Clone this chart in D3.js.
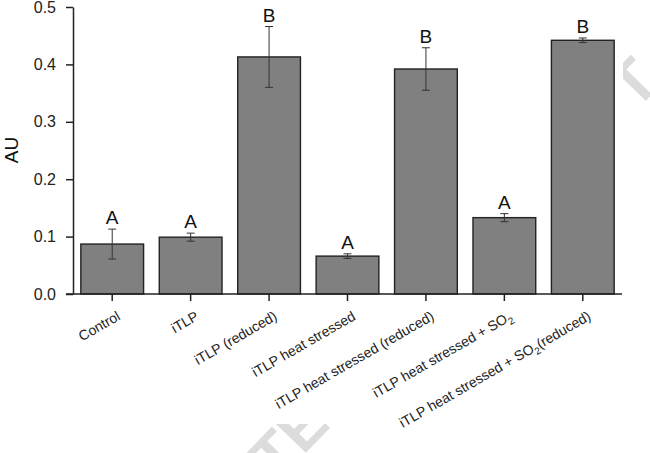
<!DOCTYPE html>
<html>
<head>
<meta charset="utf-8">
<script src="https://cdn.jsdelivr.net/npm/d3@7"></script>
<style>
  body { margin: 0; background: #fff; }
  svg { display: block; font-family: "Liberation Sans", Arial, sans-serif; }
</style>
</head>
<body>
<svg id="chart" width="650" height="453"></svg>
<script>
// data
var groups = ['Control', 'iTLP', 'iTLP (reduced)', 'iTLP heat stressed',
    'iTLP heat stressed (reduced)', 'iTLP heat stressed + SO2', 'iTLP heat stressed + SO2(reduced)'];
var means = [0.087, 0.099, 0.413, 0.066, 0.392, 0.133, 0.442];
var errs = [0.026, 0.007, 0.053, 0.004, 0.037, 0.007, 0.004];
var letters = ['A', 'A', 'B', 'A', 'B', 'A', 'B'];
var yTicks = [0, 0.1, 0.2, 0.3, 0.4, 0.5];

var svg = d3.select('#chart');
var plotL = 73, plotR = 622, plotT = 7, plotB = 294;

// faint watermark, mostly hidden behind the figure
svg.append('text')
    .attr('transform', 'translate(662,84) rotate(-46)')
    .attr('text-anchor', 'end')
    .attr('font-size', 62).attr('font-weight', 'bold')
    .attr('fill', '#dcdcdc')
    .text('ACCEPTED MANUSCRIPT');
svg.append('rect').attr('x', 0).attr('y', 0).attr('width', 623).attr('height', 424).attr('fill', '#fff');

var x = d3.scaleBand().domain(groups).range([plotL, plotR]).paddingInner(0.2).paddingOuter(0.1);
var y = d3.scaleLinear().domain([0, 0.5]).range([plotB, plotT]);

// bars
svg.append('g').selectAll('rect').data(groups).enter().append('rect')
    .attr('x', d => x(d))
    .attr('y', (d, i) => y(means[i]))
    .attr('width', x.bandwidth())
    .attr('height', (d, i) => y(0) - y(means[i]))
    .attr('fill', '#808080')
    .attr('stroke', '#222').attr('stroke-width', 1.4);

// error bars
var eb = svg.append('g').attr('stroke', '#333').attr('stroke-width', 1);
groups.forEach(function(g, i) {
    var cx = x(g) + x.bandwidth() / 2;
    var hi = y(means[i] + errs[i]), lo = y(means[i] - errs[i]);
    eb.append('line').attr('x1', cx).attr('x2', cx).attr('y1', hi).attr('y2', lo);
    eb.append('line').attr('x1', cx - 4).attr('x2', cx + 4).attr('y1', hi).attr('y2', hi);
    eb.append('line').attr('x1', cx - 4).attr('x2', cx + 4).attr('y1', lo).attr('y2', lo);
});

// significance letters
svg.append('g').selectAll('text').data(groups).enter().append('text')
    .attr('x', d => x(d) + x.bandwidth() / 2)
    .attr('y', (d, i) => y(means[i] + errs[i]) - 5)
    .attr('text-anchor', 'middle')
    .attr('font-size', 19).attr('fill', '#111')
    .text((d, i) => letters[i]);

// y axis
var yAxis = svg.append('g').attr('transform', 'translate(' + plotL + ',0)')
    .call(d3.axisLeft(y).tickValues(yTicks).tickFormat(d3.format('.1f')).tickSize(7).tickSizeOuter(0).tickPadding(10));
yAxis.select('.domain').attr('stroke', '#222').attr('stroke-width', 1.5);
yAxis.selectAll('.tick line').attr('stroke', '#222').attr('stroke-width', 1.5);
yAxis.selectAll('.tick text').attr('font-size', 16).attr('fill', '#222')
    .attr('font-family', '"Liberation Sans", Arial, sans-serif');

// x axis
var xAxis = svg.append('g').attr('transform', 'translate(0,' + plotB + ')')
    .call(d3.axisBottom(x).tickSize(7).tickSizeOuter(0).tickFormat(''));
xAxis.select('.domain').attr('d', 'M' + (plotL - 7) + ',0H' + plotR).attr('stroke', '#222').attr('stroke-width', 1.5);
xAxis.selectAll('.tick line').attr('stroke', '#222').attr('stroke-width', 1.5);

// rotated category labels with subscript in SO2
var lab = svg.append('g').attr('font-size', 14).attr('fill', '#222');
groups.forEach(function(g) {
    var cx = x(g) + x.bandwidth() / 2;
    var t = lab.append('text')
        .attr('text-anchor', 'end')
        .attr('transform', 'translate(' + (cx + 9) + ',' + (plotB + 25) + ') rotate(-30)');
    var k = g.indexOf('SO2');
    if (k < 0) { t.text(g); return; }
    t.append('tspan').text(g.slice(0, k + 2));
    t.append('tspan').attr('font-size', 10).attr('dy', 4).text('2');
    var rest = g.slice(k + 3);
    if (rest) t.append('tspan').attr('dy', -4).text(rest);
});

// y title
svg.append('text')
    .attr('transform', 'translate(18,150) rotate(-90)')
    .attr('text-anchor', 'middle')
    .attr('font-size', 19).attr('fill', '#111')
    .text('AU');
</script>
</body>
</html>
